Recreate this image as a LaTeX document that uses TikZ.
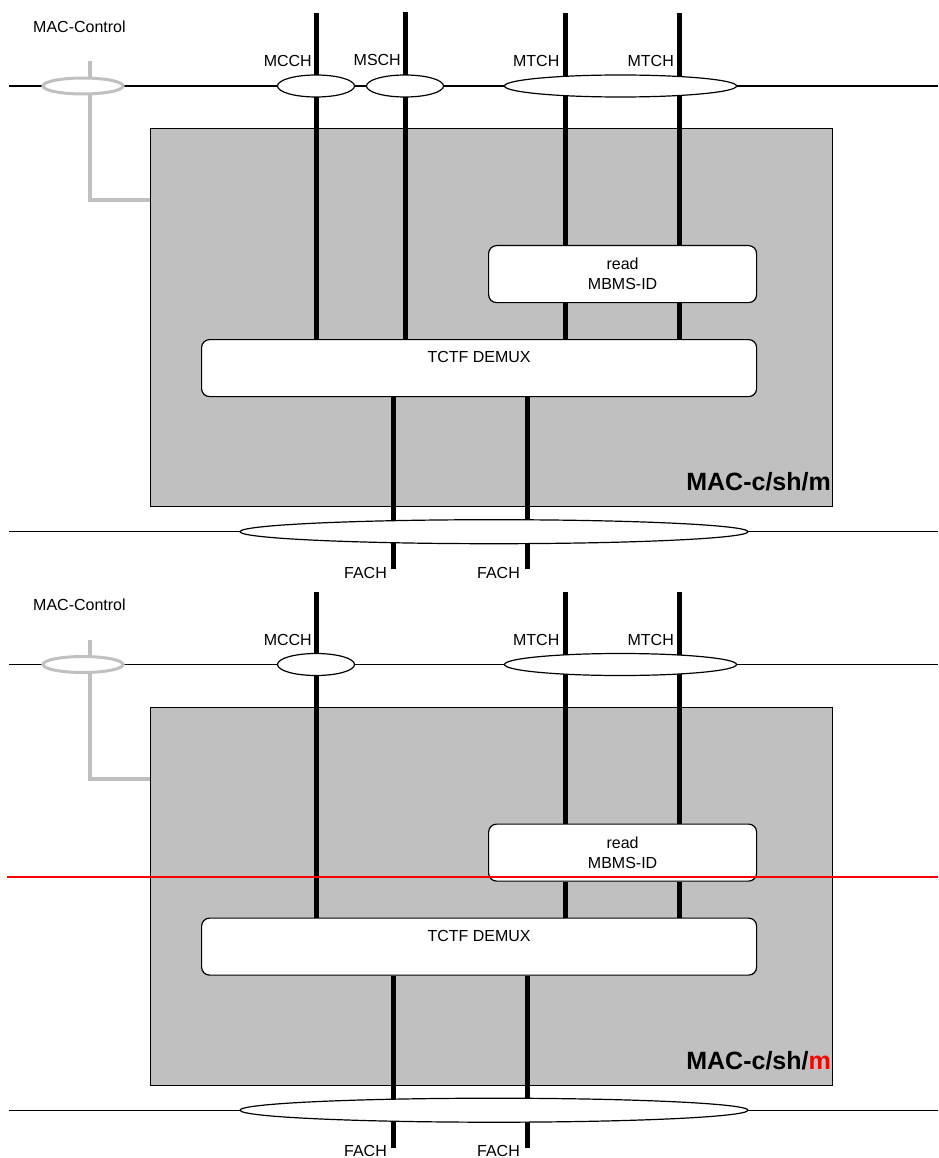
\documentclass[tikz,border=0pt]{standalone}
\usepackage{fontspec}
\setmainfont{Liberation Sans}
\usetikzlibrary{shapes.geometric}
\definecolor{boxgray}{RGB}{192,192,192}
\definecolor{ctrlgray}{RGB}{192,192,192}
\definecolor{redline}{RGB}{255,0,0}
\pgfdeclarelayer{boxlayer}
\pgfdeclarelayer{linelayer}
\pgfdeclarelayer{toplayer}
\pgfsetlayers{boxlayer,linelayer,main,toplayer}
\begin{document}
\begin{tikzpicture}[x=1pt,y=-1pt,
  txt/.style={font=\fontsize{16}{20}\selectfont, inner sep=0pt},
  chan/.style={ellipse, draw=black, line width=1.2pt, fill=white, inner sep=0pt},
  ctrlell/.style={ellipse, draw=ctrlgray, line width=3pt, fill=white, inner sep=0pt},
  macbox/.style={draw=black, line width=0.9pt, fill=boxgray, inner sep=0pt},
  func/.style={draw=black, line width=1.2pt, fill=white, rounded corners=8pt, inner sep=0pt},
  trch/.style={line width=5pt, black},
  bus/.style={line width=1.4pt, black},
  ctrl/.style={line width=4pt, ctrlgray},
  rline/.style={line width=2pt, redline},
  maclbl/.style={font=\fontsize{25}{30}\selectfont\bfseries, inner sep=0pt, anchor=base east}
]
\path[use as bounding box] (0,0) rectangle (938,1158);

% ================= upper panel =================
\node[txt, anchor=west] (ctrlA) at (33,26.5) {MAC-Control};
\begin{pgfonlayer}{boxlayer}
\node[macbox, minimum width=682pt, minimum height=378pt, anchor=north west] (boxA) at (150,128) {};
\end{pgfonlayer}
\node[func, minimum width=268pt, minimum height=57pt, anchor=north west] (readA) at (488,245) {};
\node[txt, align=center] (readtA) at (readA.center) {read\\MBMS-ID};
\node[func, minimum width=555pt, minimum height=57pt, anchor=north west] (demuxA) at (201,339) {};
\node[txt] (demuxtA) at ([yshift=-18pt]demuxA.north) {TCTF DEMUX};

\node[ctrlell, minimum width=80pt, minimum height=16pt] (cellA) at (83,86) {};
\node[chan, minimum width=77pt, minimum height=22pt] (mcchA) at (316,86) {};
\node[chan, minimum width=77pt, minimum height=22pt] (mschA) at (405,86) {};
\node[chan, minimum width=232pt, minimum height=22pt] (mtchA) at (620.5,86) {};
\node[chan, minimum width=508pt, minimum height=24pt] (fachA) at (494,531.7) {};

\coordinate (busLA) at (9,86);
\coordinate (busRA) at (938,86);
\coordinate (bus2LA) at (9,531.7);
\coordinate (bus2RA) at (938,531.7);
\coordinate (t1A) at (316,13);
\coordinate (t2A) at (405,12);
\coordinate (t3A) at (565,13);
\coordinate (t4A) at (679,13);
\coordinate (f1A) at (393,569);
\coordinate (f2A) at (527,569);
\coordinate (gtopA) at (90,61);
\coordinate (gcornA) at (90,200);

\begin{pgfonlayer}{linelayer}
\draw[bus] (busLA) -- (busRA);
\draw[bus] (bus2LA) -- (bus2RA);
\draw[trch] (t1A) -- (t1A |- demuxA.north);
\draw[trch] (t2A) -- (t2A |- demuxA.north);
\draw[trch] (t3A) -- (t3A |- readA.north);
\draw[trch] (t3A |- readA.south) -- (t3A |- demuxA.north);
\draw[trch] (t4A) -- (t4A |- readA.north);
\draw[trch] (t4A |- readA.south) -- (t4A |- demuxA.north);
\draw[trch] (f1A |- demuxA.south) -- (f1A);
\draw[trch] (f2A |- demuxA.south) -- (f2A);
\draw[ctrl] (gtopA) -- (gcornA) -- (gcornA -| boxA.west);
\end{pgfonlayer}

\node[txt, anchor=east] (lmcchA) at (312,61) {MCCH};
\node[txt, anchor=east] (lmschA) at (401,60) {MSCH};
\node[txt, anchor=east] (lmtch1A) at (559.5,61) {MTCH};
\node[txt, anchor=east] (lmtch2A) at (674,61) {MTCH};
\node[txt, anchor=east] (lfach1A) at (387,572.7) {FACH};
\node[txt, anchor=east] (lfach2A) at (520,572.7) {FACH};
\node[maclbl] (macA) at (831,490.5) {MAC-c/sh/m};

% ================= lower panel =================
\begin{scope}[shift={(0,578.5)}]
\node[txt, anchor=west] (ctrlB) at (33,26.5) {MAC-Control};
\begin{pgfonlayer}{boxlayer}
\node[macbox, minimum width=682pt, minimum height=378pt, anchor=north west] (boxB) at (150,128) {};
\end{pgfonlayer}
\node[func, minimum width=268pt, minimum height=57pt, anchor=north west] (readB) at (488,245) {};
\node[txt, align=center] (readtB) at (readB.center) {read\\MBMS-ID};
\node[func, minimum width=555pt, minimum height=57pt, anchor=north west] (demuxB) at (201,339) {};
\node[txt] (demuxtB) at ([yshift=-18pt]demuxB.north) {TCTF DEMUX};

\node[ctrlell, minimum width=80pt, minimum height=16pt] (cellB) at (83,86) {};
\node[chan, minimum width=77pt, minimum height=22pt] (mcchB) at (316,86) {};
\node[chan, minimum width=232pt, minimum height=22pt] (mtchB) at (620.5,86) {};
\node[chan, minimum width=508pt, minimum height=24pt] (fachB) at (494,531.7) {};

\coordinate (busLB) at (9,86);
\coordinate (busRB) at (938,86);
\coordinate (bus2LB) at (9,531.7);
\coordinate (bus2RB) at (938,531.7);
\coordinate (t1B) at (316,13);
\coordinate (t3B) at (565,13);
\coordinate (t4B) at (679,13);
\coordinate (f1B) at (393,569);
\coordinate (f2B) at (527,569);
\coordinate (gtopB) at (90,61);
\coordinate (gcornB) at (90,200);

\begin{pgfonlayer}{linelayer}
\draw[bus] (busLB) -- (busRB);
\draw[bus] (bus2LB) -- (bus2RB);
\draw[trch] (t1B) -- (t1B |- demuxB.north);
\draw[trch] (t3B) -- (t3B |- readB.north);
\draw[trch] (t3B |- readB.south) -- (t3B |- demuxB.north);
\draw[trch] (t4B) -- (t4B |- readB.north);
\draw[trch] (t4B |- readB.south) -- (t4B |- demuxB.north);
\draw[trch] (f1B |- demuxB.south) -- (f1B);
\draw[trch] (f2B |- demuxB.south) -- (f2B);
\draw[ctrl] (gtopB) -- (gcornB) -- (gcornB -| boxB.west);
\end{pgfonlayer}

\node[txt, anchor=east] (lmcchB) at (312,61) {MCCH};
\node[txt, anchor=east] (lmtch1B) at (559.5,61) {MTCH};
\node[txt, anchor=east] (lmtch2B) at (674,61) {MTCH};
\node[txt, anchor=east] (lfach1B) at (387,572.7) {FACH};
\node[txt, anchor=east] (lfach2B) at (520,572.7) {FACH};
\node[maclbl] (macB) at (831,490.5) {MAC-c/sh/\textcolor{redline}{m}};
\end{scope}

\coordinate (redL) at (7,876.7);
\coordinate (redR) at (938,876.7);
\begin{pgfonlayer}{toplayer}
\draw[rline] (redL) -- (redR);
\end{pgfonlayer}
\end{tikzpicture}
\end{document}
